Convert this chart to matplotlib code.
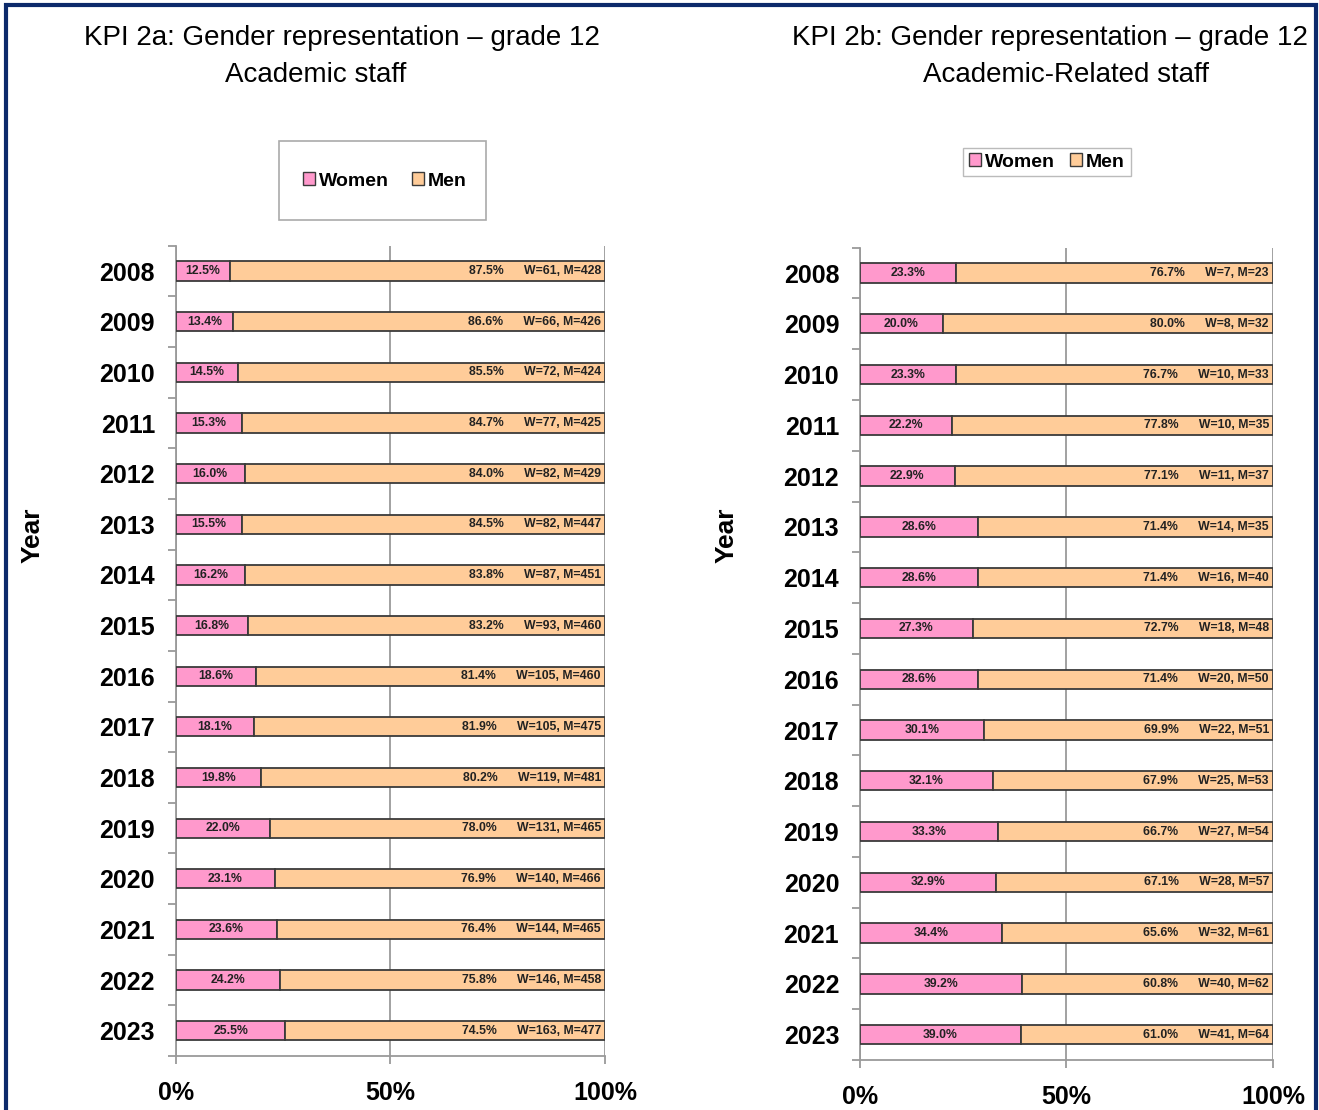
import matplotlib
matplotlib.use('Agg')
import matplotlib.pyplot as plt
from matplotlib.patches import Rectangle
from matplotlib.ticker import FixedLocator, FuncFormatter

plt.rcParams['font.family'] = ['Liberation Sans', 'DejaVu Sans']

years = [2008, 2009, 2010, 2011, 2012, 2013, 2014, 2015,
         2016, 2017, 2018, 2019, 2020, 2021, 2022, 2023]

# grade 12 academic staff
acad_women_pct = [12.5, 13.4, 14.5, 15.3, 16.0, 15.5, 16.2, 16.8,
                  18.6, 18.1, 19.8, 22.0, 23.1, 23.6, 24.2, 25.5]
acad_men_pct = [87.5, 86.6, 85.5, 84.7, 84.0, 84.5, 83.8, 83.2,
                81.4, 81.9, 80.2, 78.0, 76.9, 76.4, 75.8, 74.5]
acad_women_n = [61, 66, 72, 77, 82, 82, 87, 93, 105, 105, 119, 131, 140, 144, 146, 163]
acad_men_n = [428, 426, 424, 425, 429, 447, 451, 460, 460, 475, 481, 465, 466, 465, 458, 477]

# grade 12 academic-related staff
rel_women_pct = [23.3, 20.0, 23.3, 22.2, 22.9, 28.6, 28.6, 27.3,
                 28.6, 30.1, 32.1, 33.3, 32.9, 34.4, 39.2, 39.0]
rel_men_pct = [76.7, 80.0, 76.7, 77.8, 77.1, 71.4, 71.4, 72.7,
               71.4, 69.9, 67.9, 66.7, 67.1, 65.6, 60.8, 61.0]
rel_women_n = [7, 8, 10, 10, 11, 14, 16, 18, 20, 22, 25, 27, 28, 32, 40, 41]
rel_men_n = [23, 32, 33, 35, 37, 35, 40, 48, 50, 51, 53, 54, 57, 61, 62, 64]

pink = '#ff99cc'
peach = '#ffcc99'
edge = '#3a3a3a'
grey = '#9a9a9a'

W, H = 1319, 1110
fig = plt.figure(figsize=(W / 100, H / 100), dpi=100)

# navy frame round the whole slide
fig.patches.append(Rectangle((0.0045, -0.01), 0.9935, 1.0055, transform=fig.transFigure,
                             fill=False, edgecolor='#0c2a6b', linewidth=3, zorder=0))


def draw_panel(rect, title_lines, women_pct, men_pct, women_n, men_n, year_x):
    ax = fig.add_axes(rect)
    pos = list(range(len(years)))
    ax.barh(pos, women_pct, height=0.38, color=pink, edgecolor=edge, linewidth=1.3, zorder=3)
    ax.barh(pos, men_pct, left=women_pct, height=0.38, color=peach, edgecolor=edge,
            linewidth=1.3, zorder=3)

    for i in pos:
        ax.text(women_pct[i] / 2, i, f'{women_pct[i]:.1f}%', ha='center', va='center',
                fontsize=8.8, fontweight='bold', color='#222222', zorder=4)
        ax.annotate(f'{men_pct[i]:.1f}%      W={women_n[i]}, M={men_n[i]}',
                    xy=(100, i), xytext=(-4, 0), textcoords='offset pixels',
                    ha='right', va='center', fontsize=8.8, fontweight='bold',
                    color='#222222', zorder=4, annotation_clip=False)

    ax.set_xlim(0, 100)
    ax.set_ylim(len(years) - 0.5, -0.5)
    ax.set_yticks(pos)
    ax.set_yticklabels([str(y) for y in years], fontsize=18, fontweight='bold')
    ax.yaxis.set_minor_locator(FixedLocator([p - 0.5 for p in range(len(years) + 1)]))
    ax.tick_params(axis='y', which='major', length=0, pad=15)
    ax.tick_params(axis='y', which='minor', length=6, width=1.3, color=grey, direction='out')

    ax.set_xticks([0, 50, 100])
    ax.xaxis.set_major_formatter(FuncFormatter(lambda v, p: f'{v:.0f}%'))
    ax.tick_params(axis='x', length=6, width=1.3, color=grey, pad=12, labelsize=18)
    for lab in ax.get_xticklabels():
        lab.set_fontweight('bold')

    ax.grid(axis='x', color=grey, linewidth=1.3, zorder=0)
    ax.spines['top'].set_visible(False)
    ax.spines['right'].set_visible(False)
    for side in ['left', 'bottom']:
        ax.spines[side].set_color(grey)
        ax.spines[side].set_linewidth(1.3)

    # the two title lines are centred independently
    for text, x, base in title_lines:
        fig.text(x / W, 1 - base / H, text, ha='center', va='baseline', fontsize=20)
    fig.text(year_x, 0.518, 'Year', rotation=90, ha='center', va='center',
             fontsize=19, fontweight='bold')
    return ax


ax1 = draw_panel([0.1334, 0.0486, 0.3252, 0.7300],
                 [('KPI 2a: Gender representation \u2013 grade 12', 342, 45),
                  ('Academic staff', 316, 82)],
                 acad_women_pct, acad_men_pct, acad_women_n, acad_men_n, 0.025)
ax2 = draw_panel([0.6520, 0.0450, 0.3131, 0.7319],
                 [('KPI 2b: Gender representation \u2013 grade 12', 1050, 45),
                  ('Academic-Related staff', 1066, 82)],
                 rel_women_pct, rel_men_pct, rel_women_n, rel_men_n, 0.551)

handles = [Rectangle((0, 0), 1, 1, facecolor=pink, edgecolor=edge, linewidth=1),
           Rectangle((0, 0), 1, 1, facecolor=peach, edgecolor=edge, linewidth=1)]
legend_font = {'size': 14, 'weight': 'bold'}

# left legend sits in a tall box
fig.patches.append(Rectangle((279 / W, 1 - 220 / H), 207 / W, 79 / H,
                             transform=fig.transFigure, facecolor='white',
                             edgecolor='#aaaaaa', linewidth=1.2))
fig.legend(handles, ['Women', 'Men'], loc='center', bbox_to_anchor=(385 / W, 1 - 181 / H),
           ncol=2, frameon=False, prop=legend_font, handlelength=0.6, handleheight=0.6,
           handletextpad=0.2, columnspacing=1.2)

fig.legend(handles, ['Women', 'Men'], loc='center', bbox_to_anchor=(1047 / W, 1 - 162 / H),
           ncol=2, frameon=True, fancybox=False, edgecolor='#aaaaaa', prop=legend_font,
           handlelength=0.6, handleheight=0.6, handletextpad=0.2, columnspacing=0.8,
           borderpad=0.3)

fig.savefig('out.png', dpi=100)
